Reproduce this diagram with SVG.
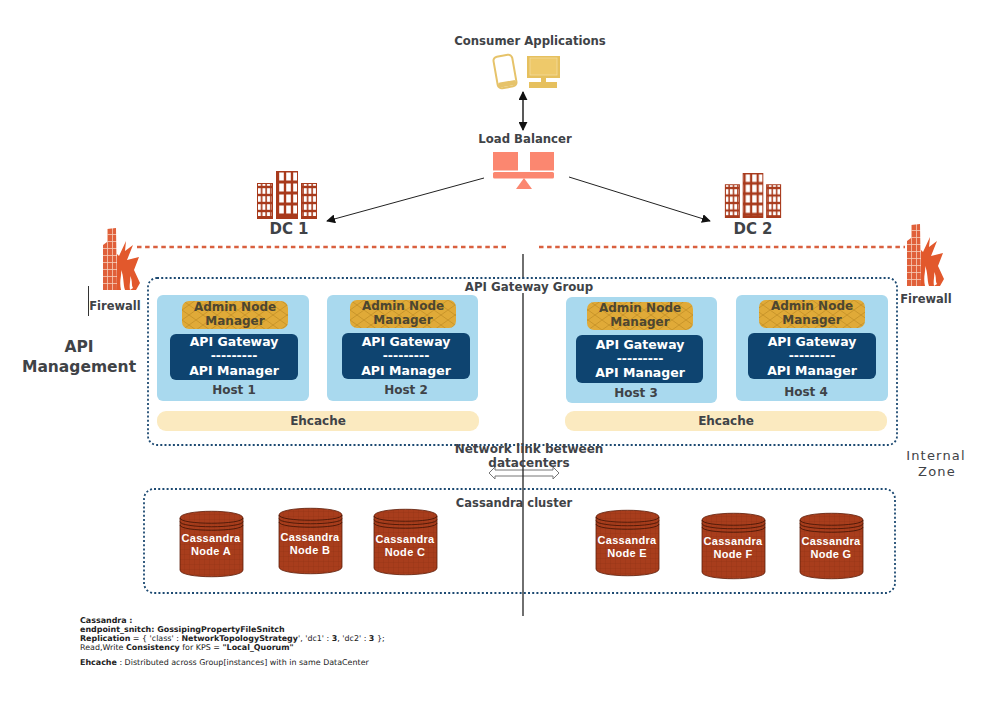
<svg xmlns="http://www.w3.org/2000/svg" width="996" height="711" viewBox="0 0 996 711">
<style>
text{font-family:"DejaVu Sans","Liberation Sans",sans-serif;font-weight:bold;fill:#3f4347;text-anchor:middle}
.host{fill:#a9d9ee}
.dark{fill:#0e4470}
.w{fill:#fff;font-size:12.5px}
.adm{font-size:12px;fill:#4d4630}
.h{font-size:12px}
.eh{fill:#fbeac0}
.grp{fill:none;stroke:#1d4a72;stroke-width:1.8;stroke-dasharray:2 2.2}
.cy{font-family:"Liberation Sans",sans-serif;font-size:11px;fill:#fff;letter-spacing:.3px}
.note{font-family:"DejaVu Sans",sans-serif;font-size:7.95px;text-anchor:start;fill:#222;font-weight:normal}
.nb{font-weight:bold}
.ln{stroke:#222;fill:none}
.iz{font-size:13px;font-weight:normal;letter-spacing:1.2px}
</style>
<defs>
<marker id="a" viewBox="0 0 10 10" refX="9" refY="5" markerWidth="9" markerHeight="9" markerUnits="userSpaceOnUse" orient="auto-start-reverse"><path d="M0 0L10 5L0 10z" fill="#111"/></marker>
<pattern id="chev" width="14" height="10" patternUnits="userSpaceOnUse"><rect width="14" height="10" fill="#e0aa38"/><path d="M0 0L7 5L14 0M0 10L7 5L14 10" fill="none" stroke="#c9952a" stroke-width="1"/></pattern>
<pattern id="grid" width="5" height="5" patternUnits="userSpaceOnUse"><rect width="5" height="5" fill="#a83d1c"/><path d="M5 0V5H0" fill="none" stroke="#8f3013" stroke-width=".6"/></pattern>
<pattern id="winc" width="7" height="11" patternUnits="userSpaceOnUse"><rect width="7" height="11" fill="#a83a1c"/><rect x="1.200" y="1.500" width="4.600" height="8" fill="#fff"/></pattern>
<pattern id="wins" width="4.600" height="8" patternUnits="userSpaceOnUse"><rect width="4.600" height="8" fill="#a83a1c"/><rect x=".8" y="1.200" width="3" height="5.600" fill="#fff"/></pattern>
<pattern id="brick" width="5" height="7" patternUnits="userSpaceOnUse"><rect width="5" height="7" fill="#e0603a"/><path d="M0 6.500H5M4.500 0V7" stroke="#f6cbb8" stroke-width=".8"/></pattern>
<symbol id="bld" viewBox="0 0 60 48" overflow="visible">
<rect x="0" y="12" width="16" height="36" fill="#a83a1c"/><rect x="1" y="13" width="14" height="32" fill="url(#wins)"/>
<rect x="19" y="0" width="22" height="48" fill="#a83a1c"/><rect x="20" y="1" width="20" height="44" fill="url(#winc)"/>
<rect x="44" y="12" width="16" height="36" fill="#a83a1c"/><rect x="45" y="13" width="14" height="32" fill="url(#wins)"/>
</symbol>
<symbol id="fire" viewBox="0 0 37 62" overflow="visible">
<path d="M4 1L13 0L14 62H0V17L4 14z" fill="url(#brick)"/>
<path d="M14 26L16 28L23 13L22 23L30 17L24 32L36 29L31 42L37 55L33 62H14z" fill="#e2582c"/>
<path d="M18 62C16 52 19 47 18 42C21 48 20 56 22 62zM27 62C26 56 28 52 27 48C30 53 28 57 30 60z" fill="#fff"/>
</symbol>
<symbol id="cyl" viewBox="0 0 63 68" overflow="visible">
<path d="M0 8C0 -1 63 -1 63 8V60C63 69 0 69 0 60z" fill="url(#grid)" stroke="#5e1e0a" stroke-width=".8"/>
<path d="M0 8C0 15 63 15 63 8M0 11.500C0 18.500 63 18.500 63 11.500M0 15C0 22 63 22 63 15" fill="none" stroke="#4a1707" stroke-width=".9"/>
</symbol>
</defs>

<g id="connectors">
<path class="ln" d="M523 92V130" stroke-width="1.500" marker-start="url(#a)" marker-end="url(#a)"/>
<path class="ln" d="M484 178L327 221" marker-end="url(#a)"/>
<path class="ln" d="M569 177L710 221" marker-end="url(#a)"/>
<path d="M137 247H506M539 247H905" fill="none" stroke="#d9603f" stroke-width="2.400" stroke-dasharray="4.500 3.600"/>
<path d="M489 473L495 467V470H553V467L559 473L553 479V476H495V479z" fill="#fff" stroke="#777"/>
<path class="ln" d="M523 254V616" stroke-width="1.300"/>
</g>

<g id="consumer">
<text x="530" y="45" font-size="11.700">Consumer Applications</text>
<g transform="translate(505 71.500) rotate(-10)"><rect x="-9.500" y="-16" width="19" height="32" rx="4" fill="#fff" stroke="#e6c36a" stroke-width="2"/><rect x="-9" y="10" width="18" height="5" rx="2" fill="#e6c36a"/></g>
<rect x="527" y="56" width="33" height="22" fill="#e6c05e"/>
<rect x="530" y="58" width="27" height="17" fill="#eec96a" stroke="#f3dd9e" stroke-width=".8"/>
<path d="M541 78H546V82H557V88H529V82H541z" fill="#e6c05e"/>
</g>

<g id="load-balancer">
<text x="525" y="143" font-size="11.700">Load Balancer</text>
<rect x="493" y="152" width="25" height="18.500" fill="#fb8770"/>
<rect x="530" y="152" width="24" height="18.500" fill="#fb8770"/>
<rect x="493" y="172" width="61" height="6.500" rx="1.500" fill="#fb8770"/>
<path d="M524 178L532 189H516z" fill="#fb8770"/>
</g>

<g id="dc1"><use href="#bld" x="257" y="171" width="60" height="48"/><text x="289" y="234" font-size="15">DC 1</text></g>
<g id="dc2"><use href="#bld" x="724" y="173" width="58" height="45"/><text x="753" y="234" font-size="15">DC 2</text></g>

<g id="firewall-left"><use href="#fire" x="103" y="228" width="37" height="62"/><path d="M88.500 286V316" stroke="#333"/><text x="115" y="310" font-size="11.500">Firewall</text></g>
<g id="firewall-right"><use href="#fire" x="907" y="224" width="37" height="62"/><text x="926" y="303" font-size="11.500">Firewall</text></g>

<g id="api-management"><text x="79" y="352" font-size="15.500">API</text><text x="79" y="372" font-size="15.500">Management</text></g>

<g id="api-gateway-group">
<rect class="grp" x="148" y="278" width="749" height="167" rx="9"/>
<rect x="462" y="279" width="134" height="14" fill="#fff"/>
<text x="529" y="291" font-size="11.800">API Gateway Group</text>
</g>

<g id="host1">
<rect class="host" x="157" y="295" width="152" height="106" rx="6"/>
<rect x="182" y="301" width="106" height="28" rx="7" fill="url(#chev)"/>
<text class="adm" x="235" y="311">Admin Node</text><text class="adm" x="235" y="325">Manager</text>
<rect class="dark" x="170" y="334" width="128" height="46" rx="6"/>
<text class="w" x="234" y="346">API Gateway</text><text class="w" x="234" y="360">---------</text><text class="w" x="234" y="375">API Manager</text>
<text class="h" x="234" y="394">Host 1</text>
</g>
<g id="host2">
<rect class="host" x="327" y="295" width="151" height="106" rx="6"/>
<rect x="350" y="300" width="106" height="28" rx="7" fill="url(#chev)"/>
<text class="adm" x="403" y="310">Admin Node</text><text class="adm" x="403" y="324">Manager</text>
<rect class="dark" x="342" y="333" width="128" height="46" rx="6"/>
<text class="w" x="406" y="346">API Gateway</text><text class="w" x="406" y="360">---------</text><text class="w" x="406" y="375">API Manager</text>
<text class="h" x="406" y="394">Host 2</text>
</g>
<g id="host3">
<rect class="host" x="566" y="297" width="151" height="106" rx="6"/>
<rect x="587" y="302" width="106" height="28" rx="7" fill="url(#chev)"/>
<text class="adm" x="640" y="312">Admin Node</text><text class="adm" x="640" y="326">Manager</text>
<rect class="dark" x="576" y="335" width="127" height="48" rx="6"/>
<text class="w" x="640" y="349">API Gateway</text><text class="w" x="640" y="363">---------</text><text class="w" x="640" y="377">API Manager</text>
<text class="h" x="636" y="397">Host 3</text>
</g>
<g id="host4">
<rect class="host" x="736" y="295" width="152" height="106" rx="6"/>
<rect x="759" y="300" width="106" height="28" rx="7" fill="url(#chev)"/>
<text class="adm" x="812" y="310">Admin Node</text><text class="adm" x="812" y="324">Manager</text>
<rect class="dark" x="748" y="333" width="128" height="46" rx="6"/>
<text class="w" x="812" y="346">API Gateway</text><text class="w" x="812" y="360">---------</text><text class="w" x="812" y="375">API Manager</text>
<text class="h" x="806" y="396">Host 4</text>
</g>

<g id="ehcache-1"><rect class="eh" x="157" y="411" width="322" height="20" rx="9"/><text x="318" y="425" font-size="12">Ehcache</text></g>
<g id="ehcache-2"><rect class="eh" x="565" y="411" width="322" height="20" rx="9"/><text x="726" y="425" font-size="12">Ehcache</text></g>

<g id="network-link"><text x="529" y="453" font-size="12">Network link between</text><text x="529" y="467" font-size="12">datacenters</text></g>

<g id="internal-zone"><text class="iz" x="936" y="460">Internal</text><text class="iz" x="937" y="476">Zone</text></g>

<g id="cassandra-cluster">
<rect class="grp" x="144" y="489" width="751" height="104" rx="10"/>
<text x="514" y="507" font-size="11.500">Cassandra cluster</text>
</g>

<g id="node-a"><use href="#cyl" x="180" y="510" width="63" height="68"/><text class="cy" x="211" y="542">Cassandra</text><text class="cy" x="211" y="555">Node A</text></g>
<g id="node-b"><use href="#cyl" x="279" y="507" width="63" height="68"/><text class="cy" x="310" y="541">Cassandra</text><text class="cy" x="310" y="554">Node B</text></g>
<g id="node-c"><use href="#cyl" x="374" y="508" width="63" height="68"/><text class="cy" x="405" y="543">Cassandra</text><text class="cy" x="405" y="556">Node C</text></g>
<g id="node-e"><use href="#cyl" x="596" y="509" width="63" height="68"/><text class="cy" x="627" y="544">Cassandra</text><text class="cy" x="627" y="557">Node E</text></g>
<g id="node-f"><use href="#cyl" x="702" y="512" width="63" height="68"/><text class="cy" x="733" y="545">Cassandra</text><text class="cy" x="733" y="558">Node F</text></g>
<g id="node-g"><use href="#cyl" x="800" y="512" width="63" height="68"/><text class="cy" x="831" y="545">Cassandra</text><text class="cy" x="831" y="558">Node G</text></g>

<g id="notes">
<text class="note nb" x="80" y="623">Cassandra :</text>
<text class="note nb" x="80" y="632">endpoint_snitch: GossipingPropertyFileSnitch</text>
<text class="note" x="80" y="641"><tspan class="nb">Replication</tspan> = { 'class' : <tspan class="nb">NetworkTopologyStrategy</tspan>', 'dc1' : <tspan class="nb">3</tspan>, 'dc2' : <tspan class="nb">3</tspan> };</text>
<text class="note" x="80" y="650">Read,Write <tspan class="nb">Consistency</tspan> for KPS = <tspan class="nb">"Local_Quorum"</tspan></text>
<text class="note" x="80" y="665"><tspan class="nb">Ehcache</tspan> : Distributed across Group[instances] with in same DataCenter</text>
</g>
</svg>
